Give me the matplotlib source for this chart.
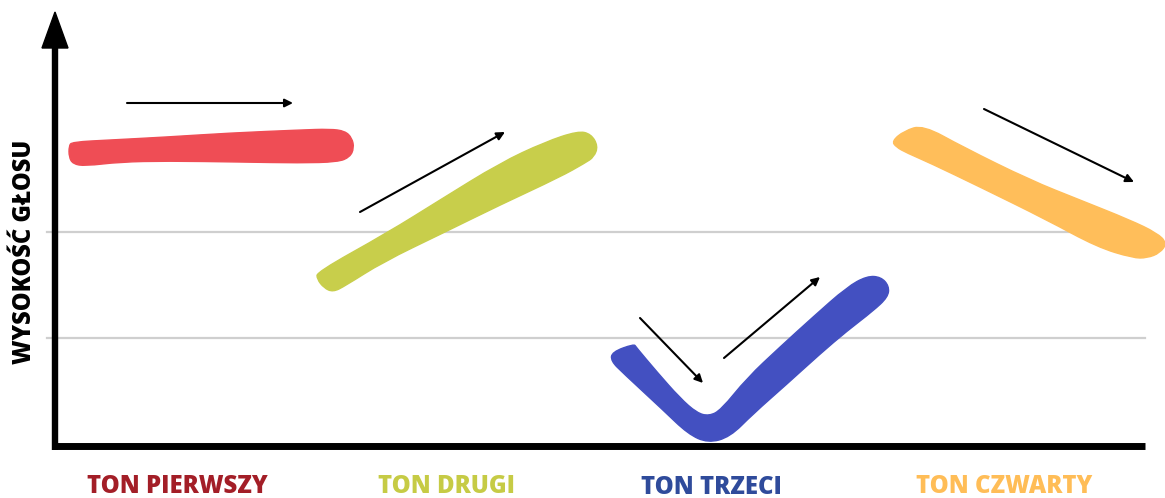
import matplotlib
matplotlib.use("Agg")
import matplotlib.pyplot as plt
from matplotlib.path import Path
from matplotlib.patches import PathPatch

# ---- data ----
tone_names = ["TON PIERWSZY", "TON DRUGI", "TON TRZECI", "TON CZWARTY"]
label_x = [177, 446, 711, 1004]
label_y = [486, 486, 487, 486]
label_colors = ["#a31e27", "#c6cb45", "#2f4b9b", "#ffbd57"]
stroke_colors = ["#ef4d55", "#c8ce4b", "#4350c1", "#ffbe5a"]
y_label = "WYSOKOŚĆ GŁOSU"
grid_levels = [232, 338]

# stroke outlines (x, y)
tone1 = [(72, 142), (110, 140), (167, 137), (230, 133), (300, 130), (330, 129),
         (345, 131), (352, 138), (354, 148), (350, 157), (338, 162), (300, 163),
         (240, 162), (167, 161), (120, 162), (85, 166), (73, 164), (69, 157), (69, 146)]
tone2 = [(317, 272), (387, 233), (440, 200), (500, 163), (545, 142), (578, 131),
         (591, 134), (598, 146), (594, 157), (585, 163), (560, 177), (500, 205),
         (443, 233), (383, 262), (345, 286), (333, 292), (324, 288), (317, 279)]
tone3 = [(634, 344), (636, 347), (657, 372), (680, 398), (697, 413), (709, 416), (721, 410),
         (747, 378), (780, 347), (813, 317), (847, 287), (867, 276), (881, 277),
         (889, 286), (888, 297), (873, 311), (847, 331), (820, 354), (787, 384),
         (753, 414), (730, 437), (708, 443), (688, 434), (663, 410), (623, 373),
         (611, 361), (612, 352)]
tone4 = [(892, 141), (904, 131), (923, 125), (963, 147), (1030, 180), (1080, 200),
         (1130, 220), (1157, 233), (1167, 243), (1160, 253), (1147, 258), (1133, 258),
         (1097, 247), (1047, 220), (980, 187), (930, 163), (907, 153), (896, 147)]
strokes = [tone1, tone2, tone3, tone4]

# direction arrows (start, end)
arrows = [((127, 103), (293, 103)),
          ((360, 212), (505, 132)),
          ((640, 318), (703, 383)),
          ((724, 358), (820, 277)),
          ((984, 109), (1134, 182))]


def smooth_path(pts):
    n = len(pts)
    mids = [((pts[i][0] + pts[(i + 1) % n][0]) / 2, (pts[i][1] + pts[(i + 1) % n][1]) / 2)
            for i in range(n)]
    verts = [mids[-1]]
    codes = [Path.MOVETO]
    for i in range(n):
        verts += [pts[i], mids[i]]
        codes += [Path.CURVE3, Path.CURVE3]
    verts.append(mids[-1])
    codes.append(Path.CLOSEPOLY)
    return Path(verts, codes)


# ---- figure ----
fig = plt.figure(figsize=(11.65, 4.98), dpi=100)
ax = fig.add_axes([0, 0, 1, 1])
ax.set_xlim(0, 1165)
ax.set_ylim(498, 0)
ax.axis("off")

for g in grid_levels:
    ax.plot([47, 1145], [g, g], color="#cfcfcf", lw=1.6, zorder=1)

# axes lines
ax.plot([55, 55], [450, 44], color="black", lw=4.6, solid_capstyle="butt", zorder=5)
ax.plot([52, 1145], [446, 446], color="black", lw=5.0, solid_capstyle="butt", zorder=5)
ax.fill([42, 68, 55], [48, 48, 12], color="black", zorder=5)

for pts, c in zip(strokes, stroke_colors):
    ax.add_patch(PathPatch(smooth_path(pts), fc=c, ec=c, lw=1.0, zorder=3))

for (s, e) in arrows:
    ax.annotate("", xy=e, xytext=s,
                arrowprops=dict(arrowstyle="-|>", lw=1.5, color="black",
                                mutation_scale=12, shrinkA=0, shrinkB=0),
                zorder=6)

for name, x, y, c in zip(tone_names, label_x, label_y, label_colors):
    ax.text(x, y, name, color=c, fontsize=17.2, fontweight="heavy",
            family="Open Sans", ha="center", va="center")

ax.text(25, 252, y_label, rotation=90, fontsize=17, fontweight="heavy",
        family="Open Sans", ha="center", va="center", color="black")

fig.savefig("out.png", dpi=100)
